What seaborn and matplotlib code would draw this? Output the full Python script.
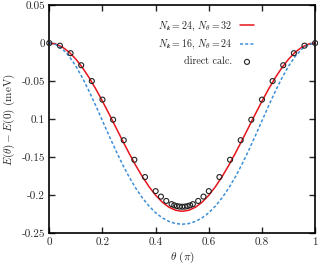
import numpy as np
import pandas as pd
import matplotlib
matplotlib.use("Agg")
import matplotlib.pyplot as plt
import seaborn as sns

# curves, sampled every 0.025 in theta
theta_line = np.linspace(0, 1, 41)
e_32 = [0, -0.0014, -0.0054, -0.0120, -0.0211, -0.0324, -0.0456, -0.0603, -0.0764, -0.0932,
        -0.1105, -0.1278, -0.1446, -0.1607, -0.1754, -0.1886, -0.1999, -0.2090, -0.2156, -0.2196,
        -0.2210,
        -0.2196, -0.2156, -0.2090, -0.1999, -0.1886, -0.1754, -0.1607, -0.1446, -0.1278, -0.1105,
        -0.0932, -0.0764, -0.0603, -0.0456, -0.0324, -0.0211, -0.0120, -0.0054, -0.0014, 0]
e_24 = [0, -0.0020, -0.0079, -0.0175, -0.0303, -0.0459, -0.0635, -0.0824, -0.1021, -0.1218,
        -0.1410, -0.1591, -0.1757, -0.1905, -0.2033, -0.2141, -0.2229, -0.2296, -0.2343, -0.2371,
        -0.2380,
        -0.2371, -0.2343, -0.2296, -0.2229, -0.2141, -0.2033, -0.1905, -0.1757, -0.1591, -0.1410,
        -0.1218, -0.1021, -0.0824, -0.0635, -0.0459, -0.0303, -0.0175, -0.0079, -0.0020, 0]

# direct calculation points
theta_pts = [0, .04, .08, .12, .16, .2, .24, .28, .32, .36, .40, .42, .44, .46, .47, .48, .49,
             .50, .51, .52, .53, .54, .56, .58, .60, .64, .68, .72, .76, .80, .84, .88, .92, .96, 1.0]
e_direct = [0, -0.0034, -0.0133, -0.0291, -0.0499, -0.0743, -0.1007, -0.1276, -0.1533, -0.1760,
            -0.1945, -0.2017, -0.2074, -0.2116, -0.2131, -0.2142, -0.2148, -0.2150, -0.2148,
            -0.2142, -0.2131, -0.2116, -0.2074, -0.2017, -0.1945, -0.1760, -0.1533, -0.1276,
            -0.1007, -0.0743, -0.0499, -0.0291, -0.0133, -0.0034, 0]

xticks = [0, 0.2, 0.4, 0.6, 0.8, 1]
xticklabels = ["0", "0.2", "0.4", "0.6", "0.8", "1"]
yticks = [0.05, 0, -0.05, -0.1, -0.15, -0.2, -0.25]
yticklabels = ["0.05", "0", "-0.05", "0.1", "-0.15", "-0.2", "-0.25"]

lab_32 = r"$N_{\boldsymbol{k}}=24$, $N_\theta=32$"
lab_24 = r"$N_{\boldsymbol{k}}=16$, $N_\theta=24$"

sns.set_style("ticks")
plt.rcParams["font.family"] = ["cmr10", "DejaVu Serif"]
plt.rcParams["mathtext.fontset"] = "cm"
plt.rcParams["axes.formatter.use_mathtext"] = True

df_lines = pd.DataFrame({"theta": theta_line, "e32": e_32, "e24": e_24})
df_pts = pd.DataFrame({"theta": theta_pts, "e": e_direct})

fig = plt.figure(figsize=(3.18, 2.64), dpi=100)
ax = fig.add_axes([0.155, 0.116, 0.836, 0.865])

sns.lineplot(data=df_lines, x="theta", y="e32", ax=ax, color="#e8141c", lw=1.1, label=lab_32)
sns.lineplot(data=df_lines, x="theta", y="e24", ax=ax, color="#3d8fd8", lw=1.1,
             dashes=False, label=lab_24)
ax.lines[-1].set_dashes([2.0, 1.4])
sns.scatterplot(data=df_pts, x="theta", y="e", ax=ax, marker="o", s=13, facecolor="none",
                edgecolor="#222222", linewidth=0.8, label="direct calc.", clip_on=False, zorder=5)

ax.set_xlim(0, 1)
ax.set_ylim(-0.25, 0.05)
ax.set_xticks(xticks)
ax.set_xticklabels(xticklabels)
ax.set_yticks(yticks)
ax.set_yticklabels(yticklabels)
ax.tick_params(direction="in", top=True, right=True, length=4, width=1.0, labelsize=8, pad=3)
for s in ax.spines.values():
    s.set_linewidth(1.2)
    s.set_color("black")

ax.set_xlabel(r"$\theta$ ($\pi$)", fontsize=8, labelpad=2)
ax.set_ylabel(r"$E(\theta) - E(0)$ (meV)", fontsize=8, labelpad=3)

ax.legend(loc="upper right", bbox_to_anchor=(0.785, 0.955), frameon=False, markerfirst=False,
          fontsize=7.2, handlelength=1.4, handletextpad=0.8, labelspacing=0.55, borderaxespad=0)

fig.savefig("out.png", dpi=100)
